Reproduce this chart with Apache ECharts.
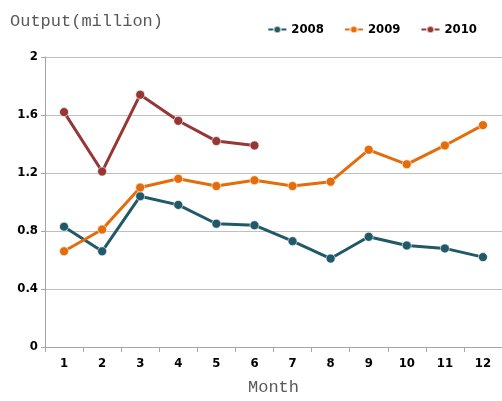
<!DOCTYPE html>
<html>
<head>
<meta charset="utf-8">
<script src="https://cdn.jsdelivr.net/npm/echarts@6/dist/echarts.min.js"></script>
<style>
  html, body { margin: 0; padding: 0; background: #fff; }
  #chart { width: 502px; height: 401px; }
</style>
</head>
<body>
<div id="chart"></div>
<script>
// monthly output, million
var months = ['1', '2', '3', '4', '5', '6', '7', '8', '9', '10', '11', '12']
var output2008 = [0.83, 0.66, 1.04, 0.98, 0.85, 0.84, 0.73, 0.61, 0.76, 0.70, 0.68, 0.62]
var output2009 = [0.66, 0.81, 1.10, 1.16, 1.11, 1.15, 1.11, 1.14, 1.36, 1.26, 1.39, 1.53]
var output2010 = [1.62, 1.21, 1.74, 1.56, 1.42, 1.39]

var chart = echarts.init(document.getElementById('chart'))

var tickFont = {
  fontFamily: 'DejaVu Sans Condensed',
  fontWeight: 'bold',
  fontSize: 13,
  color: '#000'
}

function lineSeries(name, color, data) {
  return {
    name: name,
    type: 'line',
    data: data,
    symbol: 'circle',
    symbolSize: 9,
    lineStyle: { color: color, width: 3 },
    itemStyle: { color: color, borderColor: 'rgba(255,255,255,0.6)', borderWidth: 1 },
    animation: false
  }
}

chart.setOption({
  title: {
    text: 'Output(million)',
    left: 5,
    top: 8,
    textStyle: {
      fontFamily: 'Liberation Mono',
      fontWeight: 'normal',
      fontSize: 17,
      color: '#595959'
    }
  },
  legend: {
    right: 20,
    top: 18,
    itemGap: 20,
    itemWidth: 18,
    itemHeight: 9,
    textStyle: {
      fontFamily: 'DejaVu Sans Condensed',
      fontWeight: 'bold',
      fontSize: 13,
      color: '#000'
    },
    data: ['2008', '2009', '2010']
  },
  grid: {
    left: 45,
    right: 0,
    top: 57,
    bottom: 54
  },
  xAxis: {
    type: 'category',
    data: months,
    name: 'Month',
    nameLocation: 'middle',
    nameGap: 32,
    nameTextStyle: {
      fontFamily: 'Liberation Mono',
      fontSize: 17,
      color: '#595959'
    },
    axisLine: { lineStyle: { color: '#a6a6a6' } },
    axisTick: { show: true, length: 5, lineStyle: { color: '#a6a6a6' } },
    axisLabel: Object.assign({ margin: 10 }, tickFont)
  },
  yAxis: {
    type: 'value',
    min: 0,
    max: 2,
    interval: 0.4,
    axisLine: { show: true, lineStyle: { color: '#a6a6a6' } },
    axisTick: { show: true, length: 4, lineStyle: { color: '#a6a6a6' } },
    axisLabel: Object.assign({ margin: 7 }, tickFont),
    splitLine: { lineStyle: { color: '#bfbfbf', width: 1 } }
  },
  series: [
    lineSeries('2008', '#215968', output2008),
    lineSeries('2009', '#e46c0a', output2009),
    lineSeries('2010', '#953735', output2010)
  ]
})
</script>
</body>
</html>
